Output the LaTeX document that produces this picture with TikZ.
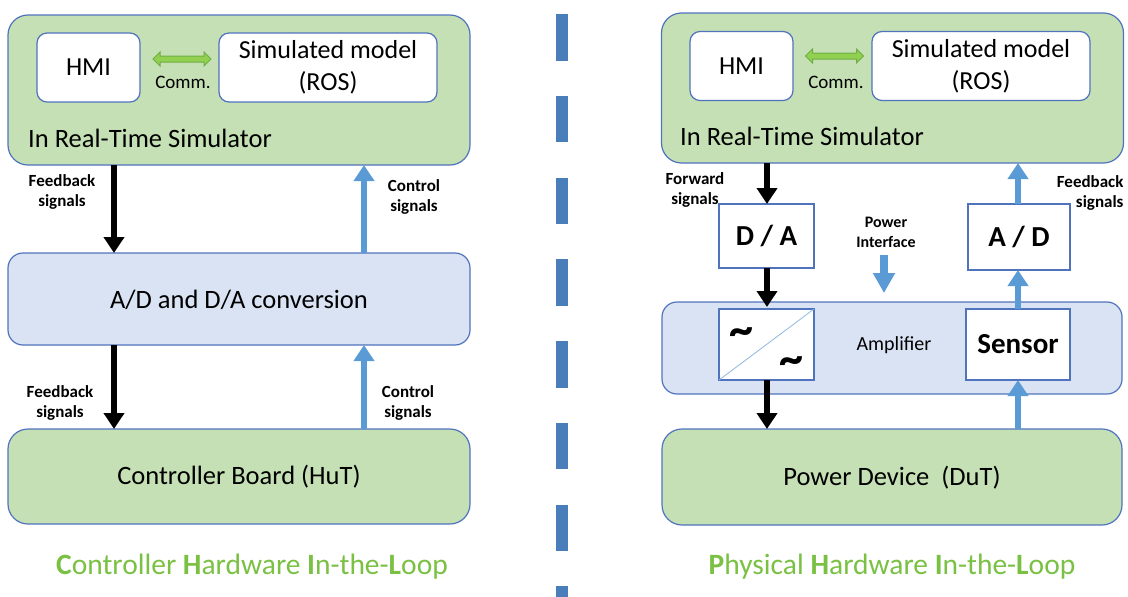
\documentclass[tikz,border=0pt]{standalone}
\usepackage{fontspec}
\setmainfont{Carlito}
\usepackage{tikz}
\usetikzlibrary{arrows.meta,shapes.arrows}
\definecolor{simgreen}{HTML}{C5E0B4}
\definecolor{convblue}{HTML}{DAE3F3}
\definecolor{boxline}{RGB}{80,115,190}
\definecolor{sigblue}{HTML}{5B9BD5}
\definecolor{dashblue}{HTML}{4A7EBB}
\definecolor{commfill}{HTML}{92D050}
\definecolor{commline}{HTML}{70AD47}
\definecolor{titlegreen}{RGB}{122,193,67}
\tikzstyle{simbox} = [rectangle, draw=boxline, line width=1.2pt, fill=simgreen, rounded corners=20pt, minimum width=462pt, inner sep=0pt, outer sep=0pt]
\tikzstyle{convbox} = [rectangle, draw=boxline, line width=1.2pt, fill=convblue, rounded corners=15pt, minimum width=462pt, minimum height=92pt, inner sep=0pt, outer sep=0pt]
\tikzstyle{whitebox} = [rectangle, draw=boxline, line width=1.2pt, fill=white, rounded corners=10pt, minimum height=69pt, inner sep=0pt, outer sep=0pt, align=center, font=\fontsize{26}{32}\selectfont]
\tikzstyle{unitbox} = [rectangle, draw=boxline, line width=1.2pt, fill=white, inner sep=0pt, outer sep=0pt, font=\fontsize{29}{30}\selectfont\bfseries]
\tikzstyle{bigtext} = [font=\fontsize{26.5}{30}\selectfont]
\tikzstyle{sig} = [font=\fontsize{17}{20}\selectfont\bfseries, align=center]
\tikzstyle{comm} = [double arrow, draw=commline, line width=1pt, fill=commfill, minimum height=58pt, inner sep=2.5pt, double arrow head extend=4pt]
\tikzstyle{title} = [font=\fontsize{29.5}{32}\selectfont, text=titlegreen]
\tikzstyle{fwd} = [draw, line width=6pt, black, -{Triangle[width=20pt,length=16pt]}]
\tikzstyle{back} = [draw, line width=6.5pt, sigblue, -{Triangle[width=20pt,length=16pt]}]

\begin{document}
\begin{tikzpicture}[x=1pt, y=-1pt]
				\useasboundingbox (0,0) rectangle (1128,597);
				% Separator
				\draw[dashblue, line width=11.7pt, dash pattern=on 46.4pt off 35.3pt] (562,14.3) -- (562,597);
				% Place nodes, left side
				\node [simbox, minimum height=150pt] (rts1) at (239,90) {};
				\node [whitebox, minimum width=103pt] (hmi1) at (88.5,67.5) {HMI};
				\node [whitebox, minimum width=218pt] (sim1) at (328,67.5) {Simulated model\\(ROS)};
				\node [comm] (comm1) at (182,59) {};
				\node [font=\fontsize{19}{21}\selectfont] (commlbl1) at (183,82) {Comm.};
				\node [bigtext, anchor=west, inner sep=0pt] (rtslbl1) at (28,138) {In Real-Time Simulator};
				\node [convbox] (conv1) at (239,299) {};
				\node [bigtext] (convlbl1) at (239,300) {A/D and D/A conversion};
				\node [simbox, minimum height=95pt] (ctrl1) at (239,476.5) {};
				\node [bigtext] (ctrllbl1) at (239,477) {Controller Board (HuT)};
				\node [sig] (fblbl1) at (62,192) {Feedback\\signals};
				\node [sig] (cslbl1) at (414,197) {Control\\signals};
				\node [sig] (fblbl2) at (60,403) {Feedback\\signals};
				\node [sig] (cslbl2) at (408,403) {Control\\signals};
				\node [title] (title1) at (252,567) {\textbf{C}ontroller \textbf{H}ardware \textbf{I}n-the-\textbf{L}oop};
				\coordinate (lfwd) at (114,0);
				\coordinate (lback) at (364,0);
				% Draw edges, left side
				\path [fwd] (rts1.south -| lfwd) -- (conv1.north -| lfwd);
				\path [fwd] (conv1.south -| lfwd) -- (ctrl1.north -| lfwd);
				\path [back] (ctrl1.north -| lback) -- (conv1.south -| lback);
				\path [back] (conv1.north -| lback) -- (rts1.south -| lback);
				
				% Place nodes, right side
				\node [simbox, minimum height=150pt] (rts2) at (892.5,88) {};
				\node [whitebox, minimum width=103pt] (hmi2) at (741.5,66) {HMI};
				\node [whitebox, minimum width=218pt] (sim2) at (981,66) {Simulated model\\(ROS)};
				\node [comm] (comm2) at (834.5,56) {};
				\node [font=\fontsize{19}{21}\selectfont] (commlbl2) at (836,82) {Comm.};
				\node [bigtext, anchor=west, inner sep=0pt] (rtslbl2) at (680,136) {In Real-Time Simulator};
				\node [unitbox, minimum width=95pt, minimum height=64pt] (da) at (766.5,236) {D / A};
				\node [unitbox, minimum width=102pt, minimum height=66pt] (adc) at (1019,237) {A / D};
				\node [convbox, minimum width=460pt] (amp) at (892,348) {};
				\node [unitbox, minimum width=95pt, minimum height=71pt] (cv) at (766.5,344.5) {};
				\draw [sigblue!70, line width=0.8pt] (cv.south west) -- (cv.north east);
				\node [font=\fontsize{48}{48}\selectfont\bfseries] (tilde1) at (741,337) {\textasciitilde};
				\node [font=\fontsize{48}{48}\selectfont\bfseries] (tilde2) at (791,366) {\textasciitilde};
				\node [unitbox, minimum width=104pt, minimum height=71pt] (sensor) at (1018,344.5) {Sensor};
				\node [font=\fontsize{20}{22}\selectfont] (amplbl) at (894,345) {Amplifier};
				\node [simbox, minimum width=460pt, minimum height=96pt] (pwr) at (892,477) {};
				\node [bigtext] (pwrlbl) at (892,478) {Power Device\ \ (DuT)};
				\node [sig] (fwdlbl) at (695,190) {Forward\\signals};
				\node [sig, anchor=east, align=right] (fblbl3) at (1127,193) {Feedback\\signals};
				\node [sig, font=\fontsize{16}{20}\selectfont\bfseries] (pilbl) at (886,232) {Power\\Interface};
				\node [title] (title2) at (892,567) {\textbf{P}hysical \textbf{H}ardware \textbf{I}n-the-\textbf{L}oop};
				\coordinate (rfwd) at (767,0);
				\coordinate (rback) at (1018,0);
				\coordinate (pitop) at (884,255);
				\coordinate (pitip) at (884,293);
				% Draw edges, right side
				\path [fwd] (rts2.south -| rfwd) -- (da.north -| rfwd);
				\path [fwd] (da.south -| rfwd) -- ([yshift=2pt]cv.north -| rfwd);
				\path [fwd] (cv.south -| rfwd) -- (pwr.north -| rfwd);
				\path [back] (pwr.north -| rback) -- (sensor.south -| rback);
				\path [back] (sensor.north -| rback) -- (adc.south -| rback);
				\path [back] (adc.north -| rback) -- (rts2.south -| rback);
				\path [draw, line width=8pt, sigblue, -{Triangle[width=21pt,length=20pt]}] (pitop) -- (pitip);
			\end{tikzpicture}
\end{document}
